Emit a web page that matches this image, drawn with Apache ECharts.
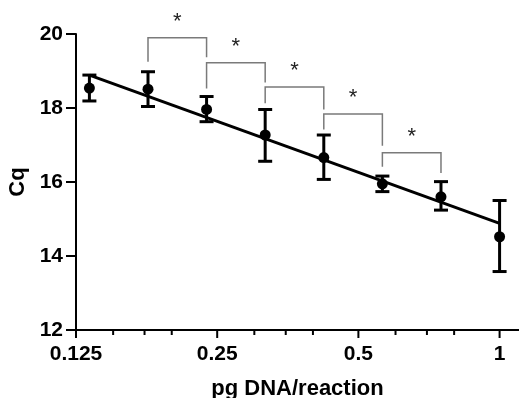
<!DOCTYPE html>
<html>
<head>
<meta charset="utf-8">
<script src="https://cdn.jsdelivr.net/npm/echarts@6/dist/echarts.min.js"></script>
<style>
html,body{margin:0;padding:0;background:#fff;}
#chart{width:519px;height:398px;}
</style>
</head>
<body>
<div id="chart"></div>
<script>
// ---- data ----
const doses = [0.1335, 0.178, 0.2373, 0.3164, 0.4219, 0.5625, 0.75, 1];
const meanCq = [18.54, 18.51, 17.96, 17.27, 16.66, 15.95, 15.6, 14.52];
const errHigh = [18.89, 18.98, 18.31, 17.96, 17.27, 16.16, 16.01, 15.5];
const errLow = [18.19, 18.04, 17.63, 16.56, 16.07, 15.74, 15.24, 13.58];
const fitX = [0.1335, 1];
const fitY = [18.89, 14.88];
const bracketFrom = [1, 2, 3, 4, 5];
const bracketTo = [2, 3, 4, 5, 6];
const bracketTop = [19.90, 19.22, 18.57, 17.84, 16.79];
const bracketLeftEnd = [19.25, 18.53, 18.13, 17.42, 16.41];
const bracketRightEnd = [19.37, 18.69, 17.96, 16.98, 16.24];
const bracketMark = ['*', '*', '*', '*', '*'];
const xMajorTicks = [0.125, 0.25, 0.5, 1];
const xMinorTicks = [0.15, 0.175, 0.2, 0.3, 0.35, 0.4, 0.6, 0.7, 0.8];
const xTickLabels = ['0.125', '0.25', '0.5', '1'];
const yTicks = [12, 14, 16, 18, 20];

const chart = echarts.init(document.getElementById('chart'), null, {renderer: 'canvas'});

const errData = doses.map((d, i) => [d, errLow[i], errHigh[i]]);
const pointData = doses.map((d, i) => [d, meanCq[i]]);
const fitData = fitX.map((d, i) => [d, fitY[i]]);
const bracketData = bracketFrom.map((a, i) => [doses[a], doses[bracketTo[i]], bracketTop[i], bracketLeftEnd[i], bracketRightEnd[i], i]);
const tickData = xMajorTicks.map(v => [v, 8]).concat(xMinorTicks.map(v => [v, 5]));

function fmtX(v) {
  const r = parseFloat(Number(v).toPrecision(6));
  const idx = xMajorTicks.findIndex(t => Math.abs(t - r) < 1e-6);
  return idx >= 0 ? xTickLabels[idx] : '';
}

const labelFont = {fontFamily: 'Liberation Sans', fontWeight: 'bold', fontSize: 21, color: '#000'};
const nameFont = {fontFamily: 'Liberation Sans', fontWeight: 'bold', fontSize: 22, color: '#000'};

const option = {
  animation: false,
  grid: {left: 76, right: 0, top: 34, bottom: 68, containLabel: false, outerBoundsMode: 'none'},
  xAxis: {
    type: 'log',
    logBase: 2,
    min: 0.125,
    max: 1.1,
    name: 'pg DNA/reaction',
    nameLocation: 'middle',
    nameGap: 48,
    nameTextStyle: nameFont,
    axisLine: {show: true, lineStyle: {color: '#000', width: 2}},
    axisTick: {show: false},
    minorTick: {show: false},
    splitLine: {show: false},
    minorSplitLine: {show: false},
    axisLabel: Object.assign({margin: 14, formatter: fmtX, showMinLabel: true, showMaxLabel: true}, labelFont)
  },
  yAxis: {
    type: 'value',
    min: 12,
    max: 20,
    interval: 2,
    name: 'Cq',
    nameLocation: 'middle',
    nameGap: 46,
    nameTextStyle: nameFont,
    axisLine: {show: true, lineStyle: {color: '#000', width: 2}},
    axisTick: {show: true, length: 10, lineStyle: {color: '#000', width: 2}},
    splitLine: {show: false},
    axisLabel: Object.assign({margin: 13}, labelFont)
  },
  series: [
    {
      type: 'custom',
      name: 'xticks',
      silent: true,
      clip: false,
      data: tickData,
      renderItem: function (params, api) {
        const p = api.coord([api.value(0), yTicks[0]]);
        const len = api.value(1);
        return {type: 'line', shape: {x1: p[0], y1: p[1], x2: p[0], y2: p[1] + len}, style: {stroke: '#000', lineWidth: 2}};
      }
    },
    {
      type: 'line',
      name: 'fit',
      data: fitData,
      showSymbol: false,
      symbol: 'none',
      lineStyle: {color: '#000', width: 3},
      z: 3
    },
    {
      type: 'custom',
      name: 'err',
      data: errData,
      clip: false,
      z: 4,
      renderItem: function (params, api) {
        const x = api.value(0);
        const lo = api.coord([x, api.value(1)]);
        const hi = api.coord([x, api.value(2)]);
        const w = 7;
        const st = {stroke: '#000', lineWidth: 3};
        return {type: 'group', children: [
          {type: 'line', shape: {x1: hi[0], y1: hi[1], x2: lo[0], y2: lo[1]}, style: st},
          {type: 'line', shape: {x1: hi[0] - w, y1: hi[1], x2: hi[0] + w, y2: hi[1]}, style: st},
          {type: 'line', shape: {x1: lo[0] - w, y1: lo[1], x2: lo[0] + w, y2: lo[1]}, style: st}
        ]};
      }
    },
    {
      type: 'scatter',
      name: 'mean',
      data: pointData,
      symbol: 'circle',
      symbolSize: 11,
      itemStyle: {color: '#000', opacity: 1},
      z: 5
    },
    {
      type: 'custom',
      name: 'brackets',
      data: bracketData,
      clip: false,
      z: 2,
      renderItem: function (params, api) {
        const x1 = api.value(0), x2 = api.value(1);
        const top1 = api.coord([x1, api.value(2)]);
        const top2 = api.coord([x2, api.value(2)]);
        const end1 = api.coord([x1, api.value(3)]);
        const end2 = api.coord([x2, api.value(4)]);
        const st = {stroke: '#7a7a7a', lineWidth: 1.5};
        const mark = bracketMark[api.value(5)];
        return {type: 'group', children: [
          {type: 'polyline', shape: {points: [[end1[0], end1[1]], [top1[0], top1[1]], [top2[0], top2[1]], [end2[0], end2[1]]]}, style: Object.assign({fill: null}, st)},
          {type: 'text', x: (top1[0] + top2[0]) / 2, y: top1[1] - 16,
           style: {text: mark, fontFamily: 'Liberation Sans', fontSize: 22, fill: '#222', align: 'center', verticalAlign: 'middle'}}
        ]};
      }
    }
  ]
};
chart.setOption(option);
</script>
</body>
</html>
